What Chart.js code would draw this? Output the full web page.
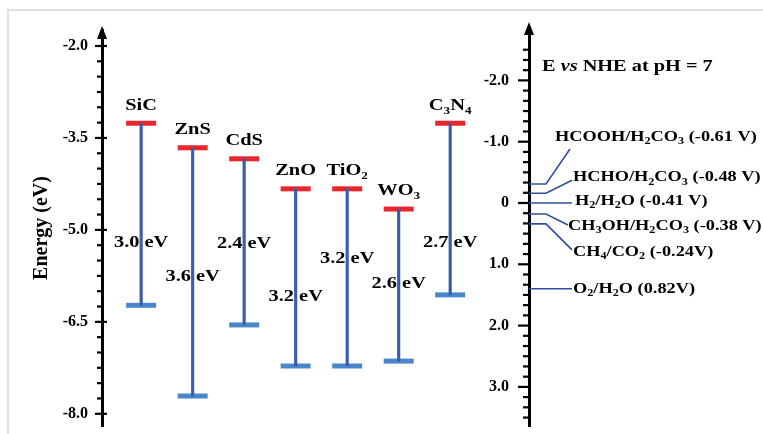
<!DOCTYPE html>
<html>
<head>
<meta charset="utf-8">
<script src="https://cdn.jsdelivr.net/npm/chart.js@4.4.1/dist/chart.umd.min.js"></script>
<style>
    html, body { margin: 0; padding: 0; background: #fff; }
    #wrap { width: 763px; height: 434px; position: relative; }
</style>
</head>
<body>
<div id="wrap"><canvas id="bandChart"></canvas></div>
<script>
// Semiconductors and their band edges (eV)
const materials = ['SiC', 'ZnS', 'CdS', 'ZnO', 'TiO_2', 'WO_3', 'C_3N_4'];
const conductionBand = [-3.26, -3.66, -3.84, -4.33, -4.33, -4.66, -3.26];
const valenceBand = [-6.23, -7.71, -6.55, -7.22, -7.22, -7.14, -6.06];
const gapLabels = ['3.0 eV', '3.6 eV', '2.4 eV', '3.2 eV', '3.2 eV', '2.6 eV', '2.7 eV'];

// Redox couples, drawn against the NHE axis (V)
const redoxCouples = [
    'HCOOH/H_2CO_3 (-0.61 V)',
    'HCHO/H_2CO_3 (-0.48 V)',
    'H_2/H_2O (-0.41 V)',
    'CH_3OH/H_2CO_3 (-0.38 V)',
    'CH_4/CO_2 (-0.24V)',
    'O_2/H_2O (0.82V)',
];
const redoxLevels = [-0.31, -0.16, 0, 0.18, 0.34, 1.40];

// Tick labels
const energyTicks = [-2.0, -3.5, -5.0, -6.5, -8.0];
const nheTicks = [-2.0, -1.0, 0, 1.0, 2.0, 3.0];

// Layout (not data): where things sit
const matX = materials.map((m, i) => i + 0.76);   // x slots on the hidden x scale
const gapLabelAt = [-5.20, -5.77, -5.23, -6.09, -5.47, -5.88, -5.20];
// leader line end (dx from axis, dy from level) and label anchor
const leaderEnd = [[41, -35], [43, -13], [43, 0], [39, 11], [43, 26], [43, 0]];
const labelPos = [[26, -47], [44, -16], [46, -2], [39, 12], [44, 28], [44, 0]];

const SERIF = '"Liberation Serif", "Times New Roman", serif';
Chart.defaults.font.family = SERIF;
Chart.defaults.font.weight = 'bold';
Chart.defaults.color = '#000';

// draws text with _2 style subscripts and *italic* parts, stretched horizontally
function drawRich(c, str, x, y, size, align, sx) {
    const parts = [];
    str.split(/(_\d|\*[^*]+\*)/).forEach(function (p) {
        if (!p) return;
        if (p[0] === '_') parts.push({ t: p.slice(1), kind: 'sub' });
        else if (p[0] === '*') parts.push({ t: p.slice(1, -1), kind: 'it' });
        else parts.push({ t: p, kind: 'n' });
    });
    const fonts = {
        n: 'bold ' + size + 'px ' + SERIF,
        it: 'italic bold ' + size + 'px ' + SERIF,
        sub: 'bold ' + Math.round(size * 0.66) + 'px ' + SERIF,
    };
    let w = 0;
    parts.forEach(function (p) {
        c.font = fonts[p.kind];
        p.w = c.measureText(p.t).width;
        w += p.w;
    });
    c.save();
    c.translate(x, y);
    c.scale(sx, 1);
    c.fillStyle = '#000';
    c.textAlign = 'left';
    c.textBaseline = 'middle';
    let cx = align === 'center' ? -w / 2 : 0;
    parts.forEach(function (p) {
        c.font = fonts[p.kind];
        c.fillText(p.t, cx, p.kind === 'sub' ? size * 0.32 : 0);
        cx += p.w;
    });
    c.restore();
}

function findTick(list, v) {
    return list.find(function (t) { return Math.abs(t - v) < 1e-6; });
}

// keep the tick label overflow from shrinking the plot
function noLabelPadding(s) {
    s.paddingTop = 0;
    s.paddingBottom = 0;
}

const decorations = {
    id: 'decorations',
    afterDraw(chart) {
        const c = chart.ctx;
        const x = chart.scales.x;
        const y = chart.scales.y;
        const y2 = chart.scales.y2;
        const leftX = chart.chartArea.left;
        const rightX = chart.chartArea.right;

        // picture frame
        c.save();
        c.strokeStyle = '#e4e0da';
        c.lineWidth = 2;
        c.strokeRect(8, 10, 800, 500);

        // tick marks
        c.strokeStyle = '#000';
        c.lineWidth = 2.2;
        y.ticks.forEach(function (t) {
            if (t.value > -1.99 || t.value < -8.01) return;
            const py = y.getPixelForValue(t.value);
            const major = findTick(energyTicks, t.value) !== undefined;
            c.beginPath();
            c.moveTo(leftX - (major ? 7 : 5), py);
            c.lineTo(leftX + (major ? 5 : 1), py);
            c.stroke();
        });
        y2.ticks.forEach(function (t) {
            if (t.value < -2.5 || t.value > 3.55) return;
            const py = y2.getPixelForValue(t.value);
            const major = findTick(nheTicks, t.value) !== undefined;
            c.beginPath();
            c.moveTo(rightX - (major ? 11 : 6), py);
            c.lineTo(rightX + (major ? 0 : 2), py);
            c.stroke();
        });

        // arrow heads
        c.fillStyle = '#000';
        [[leftX, 26], [rightX, 22]].forEach(function (a) {
            c.beginPath();
            c.moveTo(a[0], a[1]);
            c.lineTo(a[0] - 5, a[1] + 13);
            c.lineTo(a[0] + 5, a[1] + 13);
            c.closePath();
            c.fill();
        });

        // redox levels with leader lines
        c.strokeStyle = '#2f4f9e';
        c.lineWidth = 1.6;
        redoxLevels.forEach(function (v, i) {
            const py = y2.getPixelForValue(v);
            const end = leaderEnd[i];
            c.beginPath();
            c.moveTo(rightX, py);
            if (end[1] !== 0) c.lineTo(rightX + 17, py);
            c.lineTo(rightX + end[0], py + end[1]);
            c.stroke();
            drawRich(c, redoxCouples[i], rightX + labelPos[i][0], py + labelPos[i][1], 15, 'left', 1.22);
        });
        drawRich(c, 'E *vs* NHE at pH = 7', rightX + 13, 67, 16, 'left', 1.27);

        // material names and band gaps
        materials.forEach(function (m, i) {
            const px = x.getPixelForValue(matX[i]);
            drawRich(c, m, px, y.getPixelForValue(conductionBand[i]) - 18, 17, 'center', 1.2);
            drawRich(c, gapLabels[i], px, y.getPixelForValue(gapLabelAt[i]), 17, 'center', 1.2);
        });
        c.restore();
    },
};

function createBandChart() {
    const ctx = document.getElementById('bandChart').getContext('2d');
    new Chart(ctx, {
        type: 'bar',
        data: {
            datasets: [
                {
                    type: 'bar',
                    data: materials.map(function (m, i) {
                        return { x: matX[i], y: [valenceBand[i], conductionBand[i]] };
                    }),
                    backgroundColor: '#3b5ca8',
                    barThickness: 2.5,
                    yAxisID: 'y',
                },
                {
                    type: 'line',
                    showLine: false,
                    data: materials.map(function (m, i) {
                        return { x: matX[i], y: conductionBand[i] };
                    }),
                    pointStyle: 'line',
                    pointRadius: 15,
                    pointBorderWidth: 5,
                    borderColor: '#e8262b',
                    yAxisID: 'y',
                },
                {
                    type: 'line',
                    showLine: false,
                    data: materials.map(function (m, i) {
                        return { x: matX[i], y: valenceBand[i] };
                    }),
                    pointStyle: 'line',
                    pointRadius: 15,
                    pointBorderWidth: 5,
                    borderColor: '#4a87c9',
                    yAxisID: 'y',
                },
            ],
        },
        options: {
            responsive: true,
            maintainAspectRatio: false,
            animation: false,
            layout: { autoPadding: false, padding: { left: 20, right: 230, top: 30, bottom: 8 } },
            plugins: { legend: { display: false }, tooltip: { enabled: false } },
            scales: {
                x: { type: 'linear', min: 0, max: 8.29, offset: false, display: false },
                y: {
                    type: 'linear',
                    position: 'left',
                    min: -8.199,
                    max: -1.739,
                    afterFit: function (s) { s.width = 82; noLabelPadding(s); },
                    grid: {
                        display: true, drawOnChartArea: false, drawTicks: true,
                        tickLength: 14, color: 'rgba(0,0,0,0)', tickColor: 'rgba(0,0,0,0)',
                    },
                    border: { display: true, color: '#000', width: 3 },
                    ticks: {
                        stepSize: 0.25,
                        autoSkip: false,
                        includeBounds: false,
                        padding: 0,
                        font: { size: 16, weight: 'bold' },
                        callback: function (v) {
                            const t = findTick(energyTicks, v);
                            return t === undefined ? '' : t.toFixed(1);
                        },
                    },
                    title: {
                        display: true,
                        text: 'Energy (eV)',
                        font: { size: 20, weight: 'bold' },
                        padding: { top: 10, bottom: 0 },
                    },
                },
                y2: {
                    type: 'linear',
                    position: 'right',
                    reverse: true,
                    min: -2.822,
                    max: 3.638,
                    afterFit: function (s) { s.width = 4; noLabelPadding(s); },
                    grid: { display: true, drawOnChartArea: false, drawTicks: false, color: 'rgba(0,0,0,0)' },
                    border: { display: true, color: '#000', width: 3 },
                    ticks: {
                        stepSize: 1 / 6,
                        autoSkip: false,
                        includeBounds: false,
                        mirror: true,
                        padding: -20,
                        font: { size: 16, weight: 'bold' },
                        callback: function (v) {
                            const t = findTick(nheTicks, v);
                            if (t === undefined) return '';
                            return t === 0 ? '0' : t.toFixed(1);
                        },
                    },
                },
            },
        },
        plugins: [decorations],
    });
}

document.addEventListener('DOMContentLoaded', function () {
    createBandChart();
});
</script>
</body>
</html>
